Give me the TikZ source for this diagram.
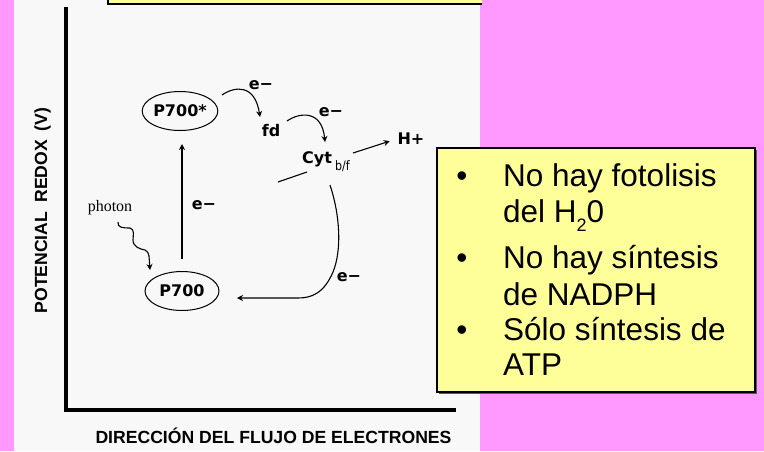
\documentclass[tikz,border=0pt]{standalone}
\usepackage{fontspec}
\setmainfont{Liberation Sans}
\newfontfamily\dvb{DejaVu Sans}
\newfontfamily\serifph{Liberation Serif}
\usetikzlibrary{arrows.meta,shapes.geometric}
\definecolor{pinkbg}{RGB}{255,153,255}
\definecolor{panel}{RGB}{248,248,248}
\definecolor{boxyellow}{RGB}{255,255,153}
\definecolor{shadowgray}{RGB}{90,90,90}
\begin{document}
\begin{tikzpicture}[x=1pt,y=-1pt,
  lbl/.style={font=\dvb\bfseries\fontsize{16}{18}\selectfont, inner sep=1pt},
  pnode/.style={ellipse, draw, line width=1pt, inner sep=0pt, minimum width=74pt, minimum height=39pt, font=\dvb\bfseries\fontsize{16}{18}\selectfont},
  conn/.style={line width=1.1pt},
  arr/.style={conn, -{Stealth[length=6pt,width=6pt]}},
  bulfont/.style={font=\fontsize{31.5}{36}\selectfont, inner sep=0pt},
  axlab/.style={font=\bfseries\fontsize{17.6}{20}\selectfont, inner sep=0pt}
]
\useasboundingbox (0,0) rectangle (764,451);
\fill[pinkbg] (0,0) rectangle (764,451);
\fill[panel] (14,0) rectangle (480,451);
% top (cut) box
\fill[boxyellow] (108,-5) rectangle (482,4);
\draw[line width=1.2pt] (108,-5) -- (108,4) -- (482,4);
% axes
\draw[line width=4.5pt] (66,7) -- (66,410) -- (456,410);
\node[axlab, anchor=base] (xlab) at (273.5,443) {DIRECCIÓN DEL FLUJO DE ELECTRONES};
\node[axlab, anchor=base, rotate=90] (ylab) at (47,210.5) {POTENCIAL\hspace{9pt}REDOX\hspace{9pt}(V)};
% nodes
\node[pnode] (p700s) at (180,111) {P700*};
\node[pnode] (p700) at (182,291) {P700};
\node[lbl] (fd) at (271,131) {fd};
\node[lbl, anchor=base west] (cyt) at (301,163) {Cyt\hspace{3pt}\raisebox{-7pt}{\fontsize{13}{14}\selectfont\mdseries\scalebox{0.85}[1]{b/f}}};
\node[lbl] (hplus) at (411,139) {H+};
\node[font=\serifph\fontsize{16}{18}\selectfont, inner sep=0pt] (photon) at (110,208) {photon};
\node[lbl] (e1) at (204,205) {e−};
\node[lbl] (e2) at (261,85) {e−};
\node[lbl] (e3) at (331,112) {e−};
\node[lbl] (e4) at (349,277) {e−};
% connectors
\draw[arr, shorten <=12pt, shorten >=13pt] (p700.north) -- (p700.north |- p700s.south);
\coordinate (a1s) at (222,95);
\coordinate (a1e) at (260,117);
\draw[arr] (a1s) .. controls (235,86) and (255,84) .. (a1e);
\coordinate (a2s) at (287,121);
\coordinate (a2e) at (325,142);
\draw[arr] (a2s) .. controls (300,112) and (322,110) .. (a2e);
\coordinate (l1s) at (278,182);
\coordinate (l1e) at (307,172);
\draw[conn] (l1s) -- (l1e);
\coordinate (l2s) at (353,153);
\draw[arr, shorten >=7pt] (l2s) -- (hplus.west);
\coordinate (a3s) at (330,185);
\coordinate (a3e) at (237,298);
\draw[arr] (a3s) .. controls (340,215) and (342,250) .. (333,272) .. controls (324,293) and (312,298) .. (298,298) -- (a3e);
\coordinate (ph1) at (118,222);
\coordinate (ph2) at (150,270);
\draw[arr] (ph1) .. controls (117,228) and (124,228) .. (130,228) .. controls (135,229) and (133,236) .. (133,240) .. controls (133,247) and (140,249) .. (145,250) .. controls (150,252) and (149,258) .. (ph2);
% right text box
\fill[shadowgray] (439,150) rectangle (757,394);
\filldraw[fill=boxyellow, draw=black, line width=1.2pt] (437,148) rectangle (755,392);
\node[bulfont, anchor=base] (b1) at (462,186) {•};
\node[bulfont, anchor=base west] (t1) at (503,186) {No hay fotolisis};
\node[bulfont, anchor=base west] (t2) at (503,222) {del H\raisebox{-9pt}{\fontsize{18}{20}\selectfont 2}0};
\node[bulfont, anchor=base] (b2) at (462,268) {•};
\node[bulfont, anchor=base west] (t3) at (503,268) {No hay síntesis};
\node[bulfont, anchor=base west] (t4) at (503,305) {de NADPH};
\node[bulfont, anchor=base] (b3) at (462,340) {•};
\node[bulfont, anchor=base west] (t5) at (503,340) {Sólo síntesis de};
\node[bulfont, anchor=base west] (t6) at (503,375) {ATP};
\end{tikzpicture}
\end{document}
